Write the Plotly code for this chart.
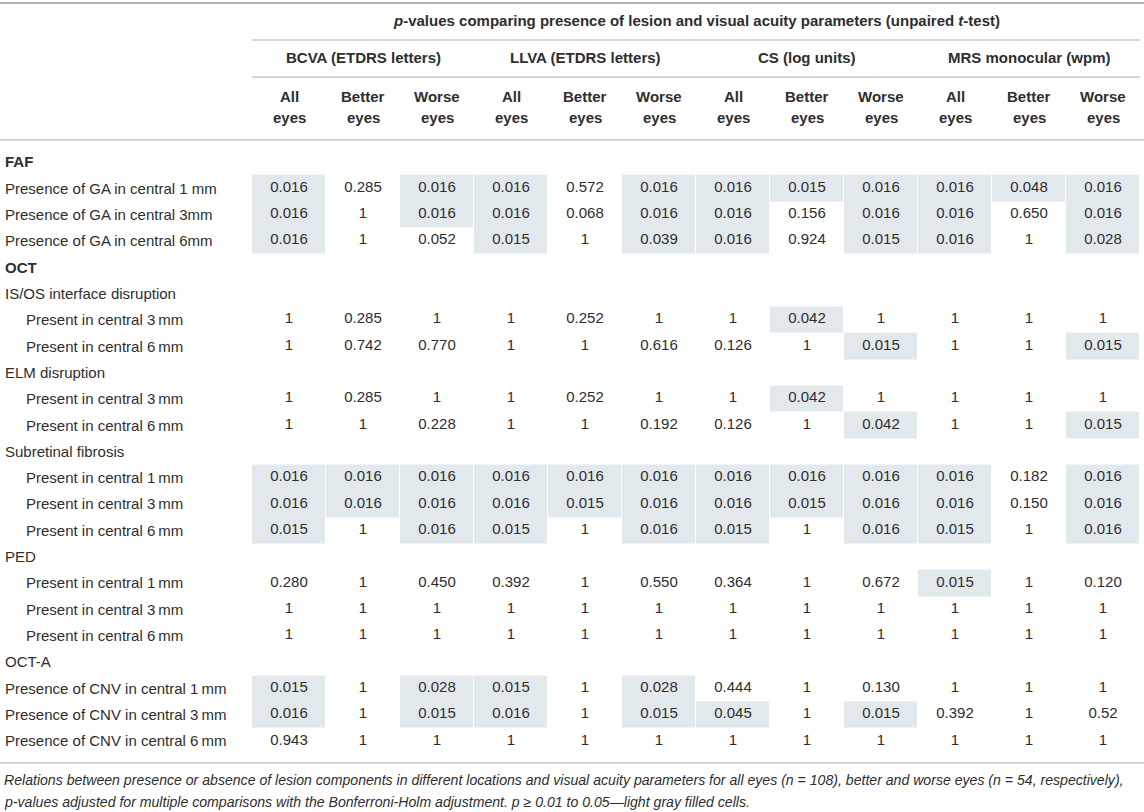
import numpy as np
import plotly.graph_objects as go

# Libellés des lignes du tableau
row_labels = [
    "FAF",
    "Presence of GA in central 1 mm",
    "Presence of GA in central 3mm",
    "Presence of GA in central 6mm",
    "OCT",
    "IS/OS interface disruption",
    "Present in central 3\u2009mm",
    "Present in central 6\u2009mm",
    "ELM disruption",
    "Present in central 3\u2009mm",
    "Present in central 6\u2009mm",
    "Subretinal fibrosis",
    "Present in central 1\u2009mm",
    "Present in central 3\u2009mm",
    "Present in central 6\u2009mm",
    "PED",
    "Present in central 1\u2009mm",
    "Present in central 3\u2009mm",
    "Present in central 6\u2009mm",
    "OCT-A",
    "Presence of CNV in central 1\u2009mm",
    "Presence of CNV in central 3\u2009mm",
    "Presence of CNV in central 6\u2009mm",
]
row_bold = [0, 4]
row_indent = [6, 7, 9, 10, 12, 13, 14, 16, 17, 18]

# Têtes de colonnes
group_labels = ["BCVA (ETDRS letters)", "LLVA (ETDRS letters)",
                "CS (log units)", "MRS monocular (wpm)"]
sub_top = ["All", "Better", "Worse"]
sub_bottom = ["eyes", "eyes", "eyes"]

# Valeurs p (chaînes, pour garder le format d'origine)
E = [""] * 12
ONES = ["1"] * 12
values = [
    E,
    ["0.016", "0.285", "0.016", "0.016", "0.572", "0.016", "0.016", "0.015", "0.016", "0.016", "0.048", "0.016"],
    ["0.016", "1", "0.016", "0.016", "0.068", "0.016", "0.016", "0.156", "0.016", "0.016", "0.650", "0.016"],
    ["0.016", "1", "0.052", "0.015", "1", "0.039", "0.016", "0.924", "0.015", "0.016", "1", "0.028"],
    E,
    E,
    ["1", "0.285", "1", "1", "0.252", "1", "1", "0.042", "1", "1", "1", "1"],
    ["1", "0.742", "0.770", "1", "1", "0.616", "0.126", "1", "0.015", "1", "1", "0.015"],
    E,
    ["1", "0.285", "1", "1", "0.252", "1", "1", "0.042", "1", "1", "1", "1"],
    ["1", "1", "0.228", "1", "1", "0.192", "0.126", "1", "0.042", "1", "1", "0.015"],
    E,
    ["0.016", "0.016", "0.016", "0.016", "0.016", "0.016", "0.016", "0.016", "0.016", "0.016", "0.182", "0.016"],
    ["0.016", "0.016", "0.016", "0.016", "0.015", "0.016", "0.016", "0.015", "0.016", "0.016", "0.150", "0.016"],
    ["0.015", "1", "0.016", "0.015", "1", "0.016", "0.015", "1", "0.016", "0.015", "1", "0.016"],
    E,
    ["0.280", "1", "0.450", "0.392", "1", "0.550", "0.364", "1", "0.672", "0.015", "1", "0.120"],
    ONES,
    ONES,
    E,
    ["0.015", "1", "0.028", "0.015", "1", "0.028", "0.444", "1", "0.130", "1", "1", "1"],
    ["0.016", "1", "0.015", "0.016", "1", "0.015", "0.045", "1", "0.015", "0.392", "1", "0.52"],
    ["0.943", "1", "1", "1", "1", "1", "1", "1", "1", "1", "1", "1"],
]

footer_1 = ("Relations between presence or absence of lesion components in different locations and "
            "visual acuity parameters for all eyes (n = 108), better and worse eyes (n = 54, respectively),")
footer_2 = ("p-values adjusted for multiple comparisons with the Bonferroni-Holm adjustment. "
            "p \u2265 0.01 to 0.05\u2014light gray filled cells.")

n_rows = len(row_labels)
n_cols = 12
cols = np.arange(n_cols)
rows = np.arange(n_rows)

# Cellules grisées : p <= 0.05
z = []
for r in rows:
    line = []
    for c in cols:
        v = values[r][c]
        line.append(1 if v != "" and float(v) <= 0.05 else None)
    z.append(line)

TXT = "#2e2e2e"
FONT = "Liberation Sans, Arial, sans-serif"
GRID = "#c9c9c9"

fig = go.Figure()

fig.add_trace(go.Heatmap(
    x=cols, y=rows, z=z,
    colorscale=[[0, "#e2e9ec"], [1, "#e2e9ec"]],
    showscale=False, xgap=1, ygap=0, hoverinfo="skip",
))

# Texte des valeurs
tx, ty, tt = [], [], []
for r in rows:
    for c in cols:
        if values[r][c] != "":
            tx.append(c)
            ty.append(r)
            tt.append(values[r][c])
fig.add_trace(go.Scatter(
    x=tx, y=ty, text=tt, mode="text",
    textfont=dict(family=FONT, size=15, color=TXT),
    hoverinfo="skip", showlegend=False,
))

annotations = []

# Libellés des lignes
for r, lab in enumerate(row_labels):
    txt = f"<b>{lab}</b>" if r in row_bold else lab
    annotations.append(dict(
        x=-3.58 if r in row_indent else -3.87, y=r, xref="x", yref="y",
        text=txt, showarrow=False, xanchor="left", yanchor="middle",
        font=dict(family=FONT, size=15, color=TXT),
    ))

# En-têtes
annotations.append(dict(
    x=(n_cols - 1) / 2, y=-5.38, xref="x", yref="y", showarrow=False,
    text="<b><i>p</i>-values comparing presence of lesion and visual acuity parameters "
         "(unpaired <i>t</i>-test)</b>",
    font=dict(family=FONT, size=15, color=TXT),
))
for g, lab in enumerate(group_labels):
    annotations.append(dict(
        x=g * 3 + 1, y=-3.94, xref="x", yref="y", showarrow=False,
        text=f"<b>{lab}</b>", font=dict(family=FONT, size=15, color=TXT),
    ))
for c in cols:
    for yy, lab in ((-2.46, sub_top[c % 3]), (-1.66, sub_bottom[c % 3])):
        annotations.append(dict(
            x=c, y=yy, xref="x", yref="y", showarrow=False,
            text=f"<b>{lab}</b>", font=dict(family=FONT, size=15, color=TXT),
        ))

# Note de bas de tableau
for yy, lab in ((23.48, footer_1), (24.32, footer_2)):
    annotations.append(dict(
        x=0.002, y=yy, xref="paper", yref="y", showarrow=False,
        xanchor="left", yanchor="middle", text=f"<i>{lab}</i>",
        font=dict(family=FONT, size=14.1, color=TXT),
    ))

# Filets horizontaux
shapes = [
    dict(type="line", xref="paper", yref="y", x0=0, x1=1, y0=-6.03, y1=-6.03,
         line=dict(color="#b0b0b0", width=2)),
    dict(type="line", xref="x", yref="y", x0=-0.5, x1=11.5, y0=-4.62, y1=-4.62,
         line=dict(color=GRID, width=1.5)),
    dict(type="line", xref="x", yref="y", x0=-0.5, x1=11.5, y0=-3.22, y1=-3.22,
         line=dict(color=GRID, width=1.5)),
    dict(type="line", xref="paper", yref="y", x0=0, x1=1, y0=-0.83, y1=-0.83,
         line=dict(color=GRID, width=1.5)),
    dict(type="line", xref="paper", yref="y", x0=0, x1=1, y0=22.84, y1=22.84,
         line=dict(color=GRID, width=1.5)),
]

fig.update_layout(
    width=1144, height=812,
    margin=dict(l=0, r=0, t=0, b=0),
    paper_bgcolor="white", plot_bgcolor="white",
    xaxis=dict(range=[-289 / 74, (1144 - 289) / 74], visible=False, fixedrange=True),
    yaxis=dict(range=[(812 - 161.7) / 26.33, -161.7 / 26.33], visible=False, fixedrange=True),
    annotations=annotations, shapes=shapes,
    showlegend=False,
)

# marge par défaut du <body> retirée pour caler la figure sur la fenêtre
fig.write_html("out.html", config=dict(displayModeBar=False),
               post_script="document.body.style.margin='0px';")
